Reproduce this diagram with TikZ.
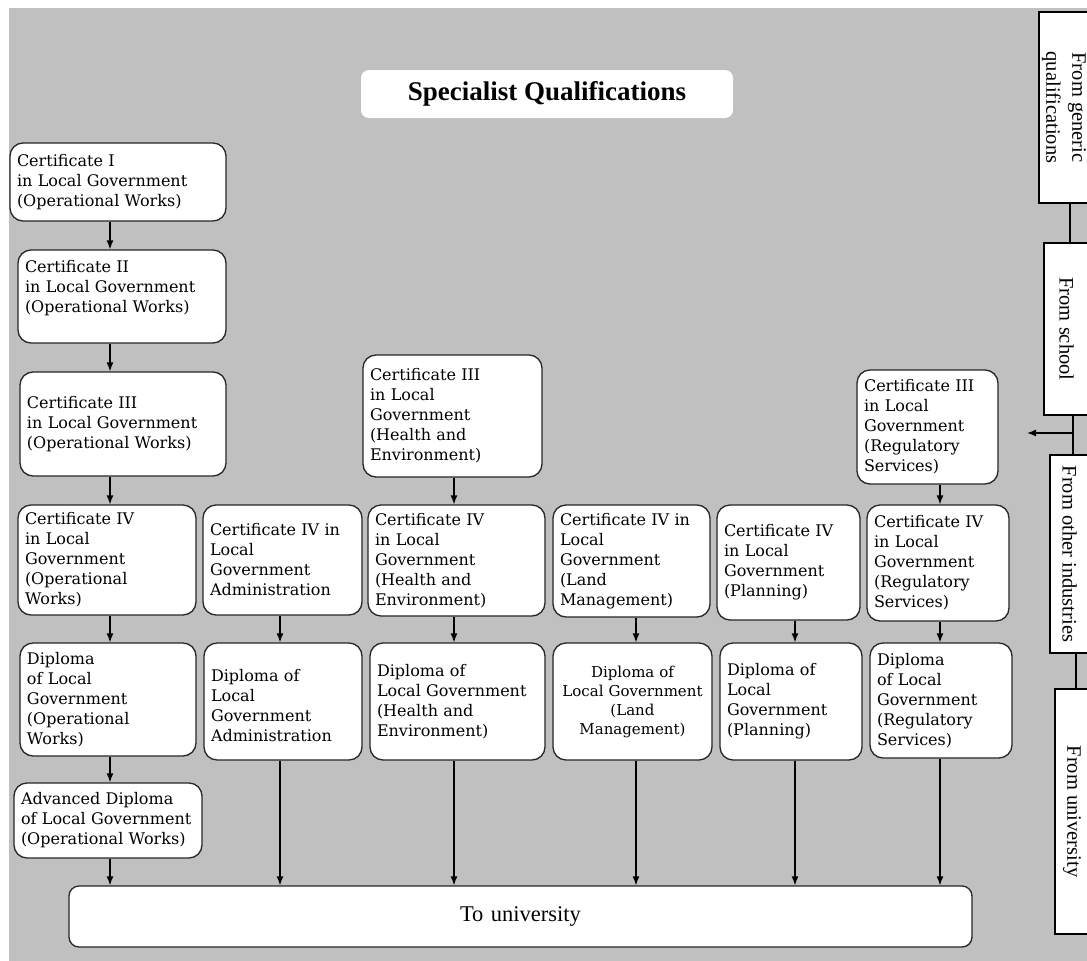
\documentclass[tikz,border=0pt]{standalone}
\usepackage{fontspec}
\setmainfont{DejaVu Serif}
\newfontfamily\timesfont{Liberation Serif}
\usetikzlibrary{arrows.meta}

\definecolor{bggray}{RGB}{192,192,192}
\tikzset{
  qual/.style={draw=black!85, fill=white, rounded corners=13pt, align=left, inner xsep=7pt, inner ysep=4pt, font=\fontsize{16}{20}\selectfont},
  frombox/.style={draw=black, fill=white, rotate=-90, align=center, inner sep=2pt, font=\timesfont\fontsize{20.5}{26}\selectfont}
}

\begin{document}
\begin{tikzpicture}[x=1pt, y=-1pt, line width=1.3pt, >={Latex[length=9pt,width=7pt]}]
        \useasboundingbox (0,0) rectangle (1087,961);
        \clip (0,0) rectangle (1087,961);
        \fill[bggray] (9,8) rectangle (1087,961);

        \node[fill=white, rounded corners=8pt, minimum width=372pt, minimum height=48pt, font=\timesfont\bfseries\fontsize{27}{32}\selectfont] (title) at (547,94) {Specialist Qualifications};

        \node[qual, text width=202pt, minimum height=78pt] (cOneOW) at (118,182) {Certificate I\\ in Local Government\\(Operational Works)};
        \node[qual, text width=194pt, minimum height=93pt] (cTwoOW) at (122,296.5) {Certificate II\\in Local Government\\(Operational Works)\\\mbox{}};
        \node[qual, text width=192pt, minimum height=104pt] (cThreeOW) at (123,424) {Certificate III\\in Local Government\\(Operational Works)};
        \node[qual, text width=164pt, minimum height=110pt] (cFourOW) at (107,560) {Certificate IV\\in Local\\Government\\(Operational\\Works)};
        \node[qual, text width=162pt, minimum height=113pt] (dipOW) at (108,699.5) {Diploma\\of Local\\Government\\(Operational\\Works)};
        \node[qual, text width=174pt, minimum height=75pt] (advOW) at (108,820.5) {Advanced Diploma\\of Local Government\\(Operational Works)};

        \node[qual, text width=145pt, minimum height=110pt] (cFourAd) at (282.5,560) {Certificate IV in\\Local\\Government\\Administration};
        \node[qual, text width=144pt, minimum height=117pt] (dipAd) at (283,701.5) {\mbox{}\\Diploma of\\Local\\Government\\Administration};

        \node[qual, text width=165pt, minimum height=122pt] (cThreeHE) at (452.5,416) {Certificate III\\in Local\\Government\\(Health and\\Environment)};
        \node[qual, text width=163pt, minimum height=111pt] (cFourHE) at (456.5,560.5) {Certificate IV\\in Local\\Government\\(Health and\\Environment)};
        \node[qual, text width=161pt, minimum height=117pt] (dipHE) at (457.5,701.5) {Diploma of\\Local Government\\(Health and\\Environment)};

        \node[qual, text width=143pt, minimum height=112pt] (cFourLM) at (631.5,561) {Certificate IV in\\Local\\Government\\(Land\\Management)};
        \node[qual, align=center, text width=149pt, inner xsep=5pt, minimum height=117pt, font=\fontsize{15}{19}\selectfont] (dipLM) at (632.5,701.5) {Diploma of\\Local Government\\(Land\\Management)};

        \node[qual, text width=129pt, minimum height=115pt] (cFourPl) at (788.5,562.5) {Certificate IV\\in Local\\Government\\(Planning)};
        \node[qual, text width=128pt, minimum height=117pt] (dipPl) at (791,701.5) {Diploma of\\Local\\Government\\(Planning)};

        \node[qual, text width=127pt, minimum height=114pt] (cThreeRS) at (927.5,427) {Certificate III\\in Local\\Government\\(Regulatory\\Services)};
        \node[qual, text width=128pt, minimum height=116pt] (cFourRS) at (938,563) {Certificate IV\\ in Local\\Government\\(Regulatory\\Services)};
        \node[qual, text width=128pt, minimum height=115pt] (dipRS) at (941,700.5) {Diploma\\of Local\\Government\\(Regulatory\\Services)};

        \node[qual, align=center, text width=889pt, minimum height=61pt, rounded corners=10pt, font=\timesfont\fontsize{22.5}{27}\selectfont] (toUni) at (520.5,916.5) {To university};

        \node[frombox, minimum width=191pt, minimum height=50pt] (frGeneric) at (1064,107.5) {From generic\\qualifications};
        \node[frombox, minimum width=172pt, minimum height=45pt] (frSchool) at (1066.5,329) {From school};
        \node[frombox, minimum width=198pt, minimum height=39pt] (frOther) at (1069.5,554) {From other industries};
        \node[frombox, minimum width=245pt, minimum height=34pt] (frUni) at (1072,811.5) {From university};

        \coordinate (colOW) at (110,0);
        \coordinate (colAd) at (280,0);
        \coordinate (colHE) at (454,0);
        \coordinate (colLM) at (636,0);
        \coordinate (colPl) at (795,0);
        \coordinate (colRS) at (940,0);

        \draw[->] (cOneOW.south -| colOW) -- (cTwoOW.north -| colOW);
        \draw[->] (cTwoOW.south -| colOW) -- (cThreeOW.north -| colOW);
        \draw[->] (cThreeOW.south -| colOW) -- (cFourOW.north -| colOW);
        \draw[->] (cFourOW.south -| colOW) -- (dipOW.north -| colOW);
        \draw[->] (dipOW.south -| colOW) -- (advOW.north -| colOW);
        \draw[->] (advOW.south -| colOW) -- (toUni.north -| colOW);

        \draw[->] (cFourAd.south -| colAd) -- (dipAd.north -| colAd);
        \draw[->] (dipAd.south -| colAd) -- (toUni.north -| colAd);

        \draw[->] (cThreeHE.south -| colHE) -- (cFourHE.north -| colHE);
        \draw[->] (cFourHE.south -| colHE) -- (dipHE.north -| colHE);
        \draw[->] (dipHE.south -| colHE) -- (toUni.north -| colHE);

        \draw[->] (cFourLM.south -| colLM) -- (dipLM.north -| colLM);
        \draw[->] (dipLM.south -| colLM) -- (toUni.north -| colLM);

        \draw[->] (cFourPl.south -| colPl) -- (dipPl.north -| colPl);
        \draw[->] (dipPl.south -| colPl) -- (toUni.north -| colPl);

        \draw[->] (cThreeRS.south -| colRS) -- (cFourRS.north -| colRS);
        \draw[->] (cFourRS.south -| colRS) -- (dipRS.north -| colRS);
        \draw[->] (dipRS.south -| colRS) -- (toUni.north -| colRS);

        \draw ([xshift=6pt]frGeneric.east) -- ([xshift=3.5pt]frSchool.west);
        \draw ([xshift=6.5pt]frSchool.east) -- ([xshift=3.5pt]frOther.west);
        \draw ([xshift=6.5pt]frOther.east) -- ([xshift=4pt]frUni.west);
        \coordinate (brSchool) at (1073,433);
        \coordinate (brTip) at (1027,433);
        \draw[->] (brSchool) -- (brTip);
\end{tikzpicture}
\end{document}
